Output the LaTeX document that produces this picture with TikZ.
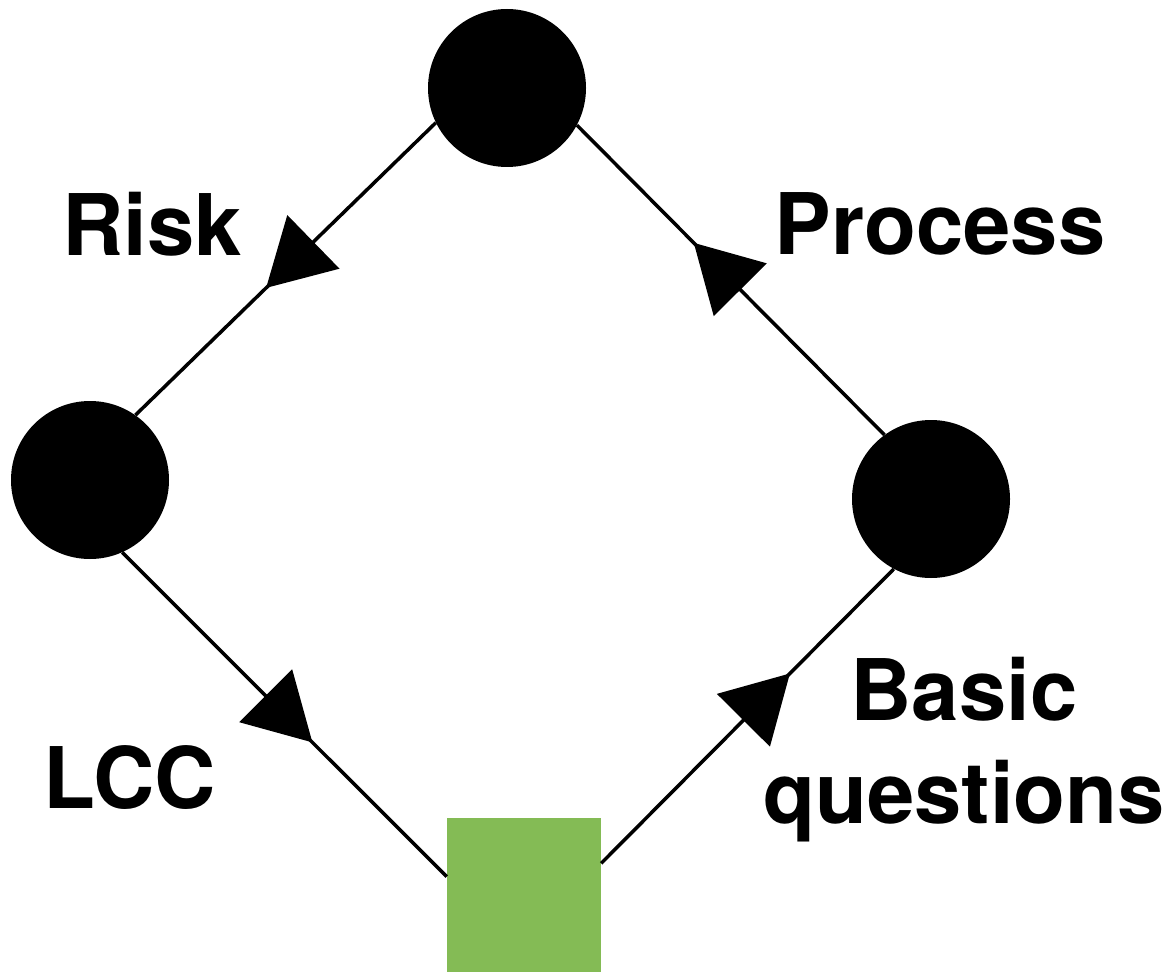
\documentclass[tikz,border=0pt]{standalone}
\usepackage{fontspec}
\setmainfont{TeX Gyre Heros}
\usetikzlibrary{arrows.meta,decorations.markings}
\definecolor{leafgreen}{RGB}{132,187,85}
\begin{document}
\begin{tikzpicture}[x=1pt,y=-1pt,
  dot/.style={circle,fill=black,inner sep=0pt,minimum size=158pt},
  goal/.style={rectangle,fill=leafgreen,inner sep=0pt,minimum size=154pt},
  tag/.style={font=\fontsize{85}{103}\selectfont\bfseries,inner sep=0pt},
  flow/.style={line width=3.5pt,postaction={decorate},
    decoration={markings,mark=at position #1 with {\arrow{Triangle[length=66pt,width=74pt]}}}},
]
\useasboundingbox (0,0) rectangle (1169,973);

% nodes of the cycle
\node[dot]  (top)   at (507,88)  {};
\node[dot]  (left)  at (90,480)  {};
\node[dot]  (right) at (931,499) {};
\node[goal] (sq)    at (524,894.5) {};

% labels
\node[tag,anchor=base] (risk) at (152,256) {Risk};
\node[tag,anchor=base] (proc) at (940,255) {Process};
\node[tag,anchor=base] (lcc)  at (130,808) {LCC};
\node[tag,anchor=base,align=center] (basic) at (964,823) {Basic\\questions};

% connectors with arrowheads midway
\draw[flow=0.565] (top.206)  -- (left.55);
\draw[flow=0.586] (left.-66) -- (sq.167);
\draw[flow=0.645] (sq.22)    -- (right.242);
\draw[flow=0.62]  (right.126) -- (top.332);
\end{tikzpicture}
\end{document}
